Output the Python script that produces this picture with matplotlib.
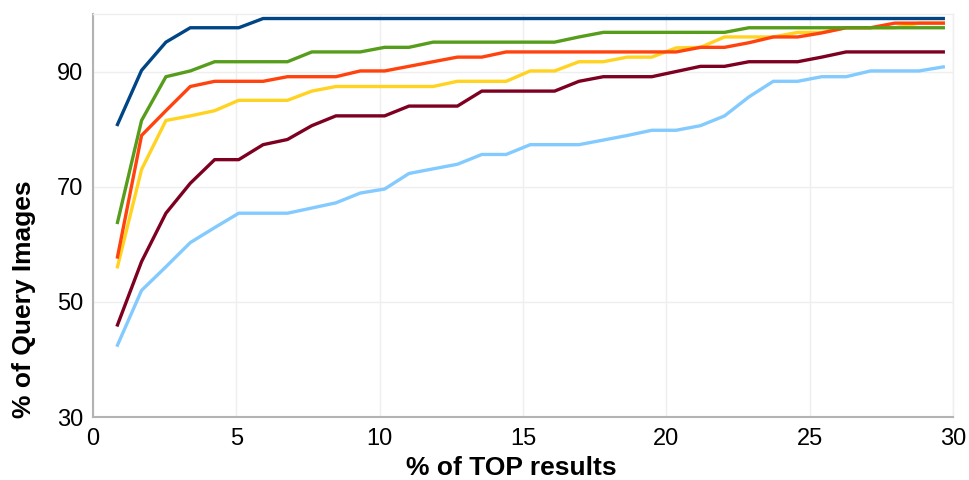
import matplotlib.pyplot as plt

plt.rcParams['font.family'] = ['Liberation Sans', 'DejaVu Sans']

# x positions: share of the ranked list (k / 118 * 100)
top_pct = [0.85, 1.69, 2.54, 3.39, 4.24, 5.08, 5.93, 6.78, 7.63, 8.47,
           9.32, 10.17, 11.02, 11.86, 12.71, 13.56, 14.41, 15.25, 16.10, 16.95,
           17.80, 18.64, 19.49, 20.34, 21.19, 22.03, 22.88, 23.73, 24.58, 25.42,
           26.27, 27.12, 27.97, 28.81, 29.66]

navy = [80.8, 90.2, 95.1, 97.6, 97.6, 97.6, 99.2, 99.2, 99.2, 99.2,
        99.2, 99.2, 99.2, 99.2, 99.2, 99.2, 99.2, 99.2, 99.2, 99.2,
        99.2, 99.2, 99.2, 99.2, 99.2, 99.2, 99.2, 99.2, 99.2, 99.2,
        99.2, 99.2, 99.2, 99.2, 99.2]
orange = [57.8, 78.9, 83.2, 87.4, 88.3, 88.3, 88.3, 89.1, 89.1, 89.1,
          90.1, 90.1, 90.9, 91.7, 92.5, 92.5, 93.4, 93.4, 93.4, 93.4,
          93.4, 93.4, 93.4, 93.4, 94.2, 94.2, 95.0, 96.0, 96.0, 96.7,
          97.6, 97.6, 98.4, 98.4, 98.4]
yellow = [56.1, 73.0, 81.5, 82.3, 83.2, 85.0, 85.0, 85.0, 86.6, 87.4,
          87.4, 87.4, 87.4, 87.4, 88.3, 88.3, 88.3, 90.1, 90.1, 91.7,
          91.7, 92.5, 92.5, 94.1, 94.2, 96.0, 96.0, 96.0, 96.8, 96.8,
          97.6, 97.6, 97.6, 98.4, 98.4]
green = [63.8, 81.5, 89.1, 90.1, 91.7, 91.7, 91.7, 91.7, 93.4, 93.4,
         93.4, 94.2, 94.2, 95.1, 95.1, 95.1, 95.1, 95.1, 95.1, 96.0,
         96.8, 96.8, 96.8, 96.8, 96.8, 96.8, 97.6, 97.6, 97.6, 97.6,
         97.6, 97.6, 97.6, 97.6, 97.6]
maroon = [46.0, 57.0, 65.4, 70.6, 74.7, 74.7, 77.3, 78.2, 80.6, 82.3,
          82.3, 82.3, 84.0, 84.0, 84.0, 86.6, 86.6, 86.6, 86.6, 88.3,
          89.1, 89.1, 89.1, 90.0, 90.9, 90.9, 91.7, 91.7, 91.7, 92.5,
          93.4, 93.4, 93.4, 93.4, 93.4]
sky = [42.5, 52.0, 56.1, 60.3, 62.9, 65.4, 65.4, 65.4, 66.3, 67.2,
       68.9, 69.6, 72.3, 73.1, 73.9, 75.6, 75.6, 77.3, 77.3, 77.3,
       78.1, 78.9, 79.8, 79.8, 80.6, 82.3, 85.6, 88.3, 88.3, 89.1,
       89.1, 90.1, 90.1, 90.1, 90.8]

series = [navy, green, orange, yellow, maroon, sky]
colors = ['#004586', '#579d1c', '#ff420e', '#ffd320', '#7e0021', '#83caff']

fig = plt.figure(figsize=(9.7, 4.8), dpi=100)
ax = fig.add_axes([0.096, 0.131, 0.8865, 0.84])

# draw bottom-up so the top curves sit over the lower ones
for ys, c in zip(series[::-1], colors[::-1]):
    ax.plot(top_pct, ys, color=c, lw=2.4, solid_joinstyle='round')

ax.set_xlim(0, 30)
ax.set_ylim(30, 100)
ax.set_xticks([0, 5, 10, 15, 20, 25, 30])
ax.set_yticks([30, 50, 70, 90])
ax.grid(True, color='#eeeeee', lw=1)
ax.set_axisbelow(True)
ax.tick_params(length=0, labelsize=17, colors='#000000')
ax.tick_params(axis='x', pad=8)
ax.tick_params(axis='y', pad=7)

for side in ['top', 'right']:
    ax.spines[side].set_color('#eeeeee')
    ax.spines[side].set_linewidth(1)
for side in ['left', 'bottom']:
    ax.spines[side].set_color('#b3b3b3')
    ax.spines[side].set_linewidth(1.5)

ax.set_xlabel('% of TOP results', fontsize=19, fontweight='bold')
ax.set_ylabel('% of Query Images', fontsize=19, fontweight='bold')
# axis titles sit a bit off-centre
ax.xaxis.set_label_coords(0.486, -0.097)
ax.yaxis.set_label_coords(-0.066, 0.293)

fig.savefig('out.png', dpi=100)
